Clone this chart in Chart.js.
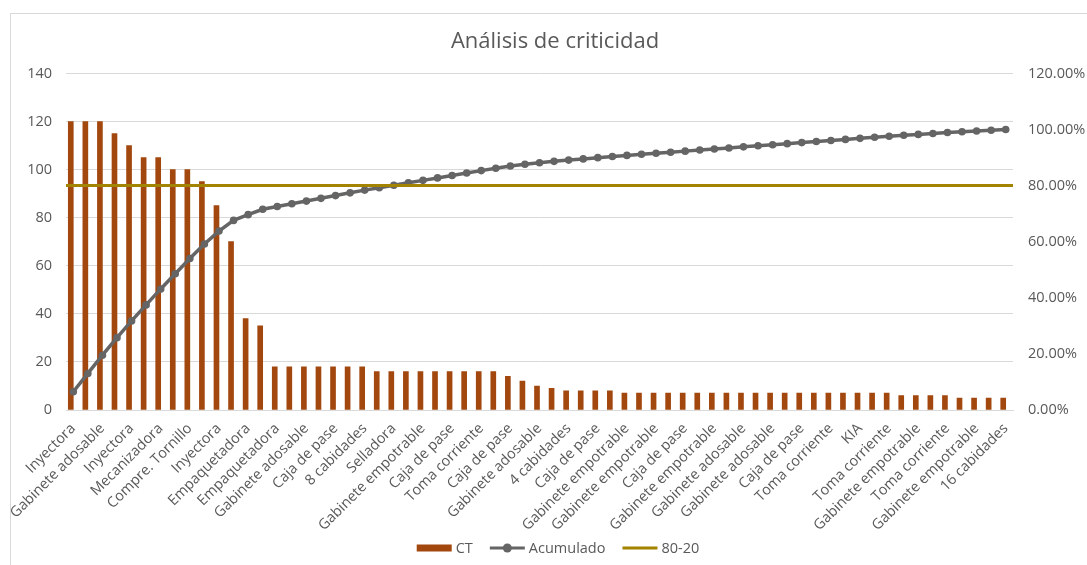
<!DOCTYPE html>
<html lang="es">
  <head>
    <meta charset="UTF-8" />
    <title>Análisis de criticidad</title>
    <script src="https://cdn.jsdelivr.net/npm/chart.js@4.4.1/dist/chart.umd.min.js"></script>
    <style>
      html, body { margin: 0; padding: 0; background: #fff; overflow: hidden; }
      #frame {
        position: absolute; left: 10px; top: 13px; width: 1200px; height: 700px;
        border-top: 1px solid #d9d9d9; border-left: 1px solid #d9d9d9;
      }
      #wrap { position: absolute; left: 0; top: 0; width: 1110px; height: 565px; }
    </style>
  </head>
  <body>
    <div id="frame"></div>
    <div id="wrap"><canvas id="paretoChart"></canvas></div>

    <script>
      // equipos ordenados por criticidad total (CT)
      const categories = [
        "Inyectora", "Inyectora", "Gabinete adosable", "Mecanizadora", "Inyectora",
        "Compre. Tornillo", "Mecanizadora", "Inyectora", "Compre. Tornillo", "Mecanizadora",
        "Inyectora", "Empaquetadora", "Empaquetadora", "Selladora", "Empaquetadora",
        "Gabinete adosable", "Gabinete adosable", "Caja de pase", "Caja de pase", "Gabinete empotrable",
        "8 cabidades", "Caja de pase", "Selladora", "Gabinete adosable", "Gabinete empotrable",
        "Caja de pase", "Caja de pase", "Toma corriente", "Toma corriente", "Gabinete adosable",
        "Caja de pase", "Gabinete empotrable", "Gabinete adosable", "Caja de pase", "4 cabidades",
        "Gabinete adosable", "Caja de pase", "Gabinete empotrable", "Gabinete empotrable", "Caja de pase",
        "Gabinete empotrable", "Gabinete adosable", "Caja de pase", "Gabinete empotrable", "Gabinete empotrable",
        "Caja de pase", "Gabinete adosable", "Gabinete empotrable", "Gabinete adosable", "Toma corriente",
        "Caja de pase", "Gabinete adosable", "Toma corriente", "Caja de pase", "KIA",
        "Gabinete empotrable", "Toma corriente", "Toma corriente", "Gabinete empotrable", "Gabinete adosable",
        "Toma corriente", "Caja de pase", "Gabinete empotrable", "Toma corriente", "16 cabidades",
      ];

      const ctValues = [
        120, 120, 120, 115, 110, 105, 105, 100, 100, 95,
        85, 70, 38, 35, 18, 18, 18, 18, 18, 18,
        18, 16, 16, 16, 16, 16, 16, 16, 16, 16,
        14, 12, 10, 9, 8, 8, 8, 8, 7, 7,
        7, 7, 7, 7, 7, 7, 7, 7, 7, 7,
        7, 7, 7, 7, 7, 7, 7, 6, 6, 6,
        6, 5, 5, 5, 5,
      ];

      const acumulado = [
        0.0651, 0.1303, 0.1954, 0.2579, 0.3176, 0.3746, 0.4316, 0.4859, 0.5402, 0.5917,
        0.6379, 0.6759, 0.6965, 0.7155, 0.7253, 0.7351, 0.7448, 0.7546, 0.7644, 0.7742,
        0.7839, 0.7926, 0.8013, 0.81, 0.8187, 0.8274, 0.836, 0.8447, 0.8534, 0.8621,
        0.8697, 0.8762, 0.8816, 0.8865, 0.8909, 0.8952, 0.8996, 0.9039, 0.9077, 0.9115,
        0.9153, 0.9191, 0.9229, 0.9267, 0.9305, 0.9343, 0.9381, 0.9419, 0.9457, 0.9495,
        0.9533, 0.9571, 0.9609, 0.9647, 0.9685, 0.9723, 0.9761, 0.9794, 0.9826, 0.9859,
        0.9891, 0.9919, 0.9946, 0.9973, 1.0,
      ];

      const linea8020 = [
        0.8, 0.8, 0.8, 0.8, 0.8, 0.8, 0.8, 0.8, 0.8, 0.8, 0.8, 0.8, 0.8,
        0.8, 0.8, 0.8, 0.8, 0.8, 0.8, 0.8, 0.8, 0.8, 0.8, 0.8, 0.8, 0.8,
        0.8, 0.8, 0.8, 0.8, 0.8, 0.8, 0.8, 0.8, 0.8, 0.8, 0.8, 0.8, 0.8,
        0.8, 0.8, 0.8, 0.8, 0.8, 0.8, 0.8, 0.8, 0.8, 0.8, 0.8, 0.8, 0.8,
        0.8, 0.8, 0.8, 0.8, 0.8, 0.8, 0.8, 0.8, 0.8, 0.8, 0.8, 0.8, 0.8,
      ];

      const leftTicks = [0, 20, 40, 60, 80, 100, 120, 140];
      const rightTicks = [0, 0.2, 0.4, 0.6, 0.8, 1.0, 1.2];

      const textColor = "#595959";
      const gridColor = "#d9d9d9";
      const tickFont = { family: "'Open Sans', sans-serif", size: 14.5 };

      // leyenda dibujada a mano para poder poner el marcador sobre la linea
      const bottomLegend = {
        id: "bottomLegend",
        afterDraw(chart) {
          const ctx = chart.ctx;
          const y = chart.height - 17;
          const symW = 35;
          const gap = 4;
          const itemGap = 17;
          ctx.save();
          ctx.font = "14.5px 'Open Sans', sans-serif";
          ctx.textBaseline = "middle";
          ctx.textAlign = "left";
          const items = chart.data.datasets.map((ds) => ({
            ds,
            w: symW + gap + ctx.measureText(ds.label).width,
          }));
          let total = items.reduce((s, it) => s + it.w, 0) + itemGap * (items.length - 1);
          let x = chart.width / 2 - total / 2 + 3;
          items.forEach(({ ds, w }) => {
            if (ds.type === "bar") {
              ctx.fillStyle = ds.backgroundColor;
              ctx.fillRect(x, y - 3.5, symW, 7);
            } else {
              ctx.strokeStyle = ds.borderColor;
              ctx.lineWidth = 3;
              ctx.beginPath();
              ctx.moveTo(x, y);
              ctx.lineTo(x + symW, y);
              ctx.stroke();
              if (ds.pointRadius > 0) {
                ctx.fillStyle = ds.borderColor;
                ctx.beginPath();
                ctx.arc(x + symW / 2, y, 4.5, 0, Math.PI * 2);
                ctx.fill();
              }
            }
            ctx.fillStyle = textColor;
            ctx.fillText(ds.label, x + symW + gap, y + 1);
            x += w + itemGap;
          });
          ctx.restore();
        },
      };

      const ctx = document.getElementById("paretoChart").getContext("2d");
      new Chart(ctx, {
        data: {
          labels: categories,
          datasets: [
            {
              type: "bar",
              label: "CT",
              data: ctValues,
              backgroundColor: "#a2470e",
              barThickness: 5,
              yAxisID: "y",
              order: 3,
            },
            {
              type: "line",
              label: "Acumulado",
              data: acumulado,
              borderColor: "#656565",
              backgroundColor: "#656565",
              borderWidth: 3.5,
              pointRadius: 3.8,
              pointBorderWidth: 0,
              tension: 0,
              yAxisID: "y1",
              order: 2,
            },
            {
              type: "line",
              label: "80-20",
              data: linea8020,
              borderColor: "#a28400",
              backgroundColor: "#a28400",
              borderWidth: 3,
              pointRadius: 0,
              xAxisID: "x2",
              yAxisID: "y1",
              order: 1,
            },
          ],
        },
        options: {
          responsive: true,
          maintainAspectRatio: false,
          animation: false,
          layout: { padding: { top: 29, left: 0, right: 0, bottom: 0 } },
          plugins: {
            legend: { display: false },
            tooltip: { enabled: false },
            title: {
              display: true,
              text: "Análisis de criticidad",
              color: textColor,
              font: { family: "'Open Sans', sans-serif", size: 22, weight: "normal" },
              padding: { top: 0, bottom: 18 },
            },
          },
          scales: {
            x: {
              grid: { display: false },
              border: { color: gridColor },
              ticks: {
                color: textColor,
                font: tickFont,
                autoSkip: false,
                minRotation: 45,
                maxRotation: 45,
                padding: 2,
                callback: (v, i) => (i % 2 === 0 ? categories[i] : ""),
              },
              afterFit: (scale) => { scale.height = 155; },
            },
            x2: {
              type: "category",
              labels: categories,
              display: false,
              offset: false,
            },
            y: {
              position: "left",
              min: 0,
              max: 140,
              grid: { color: gridColor, drawTicks: false },
              border: { display: false },
              afterBuildTicks: (scale) => {
                scale.ticks = leftTicks.map((v) => ({ value: v }));
              },
              ticks: { color: textColor, font: tickFont, padding: 14, crossAlign: "near" },
              afterFit: (scale) => { scale.width = 66; },
            },
            y1: {
              position: "right",
              min: 0,
              max: 1.2,
              grid: { display: false, drawTicks: false },
              border: { display: false },
              afterBuildTicks: (scale) => {
                scale.ticks = rightTicks.map((v) => ({ value: v }));
              },
              ticks: {
                color: textColor,
                font: tickFont,
                padding: 15,
                crossAlign: "near",
                callback: (v) => (v * 100).toFixed(2) + "%",
              },
              afterFit: (scale) => { scale.width = 97; },
            },
          },
        },
        plugins: [bottomLegend],
      });
    </script>
  </body>
</html>
